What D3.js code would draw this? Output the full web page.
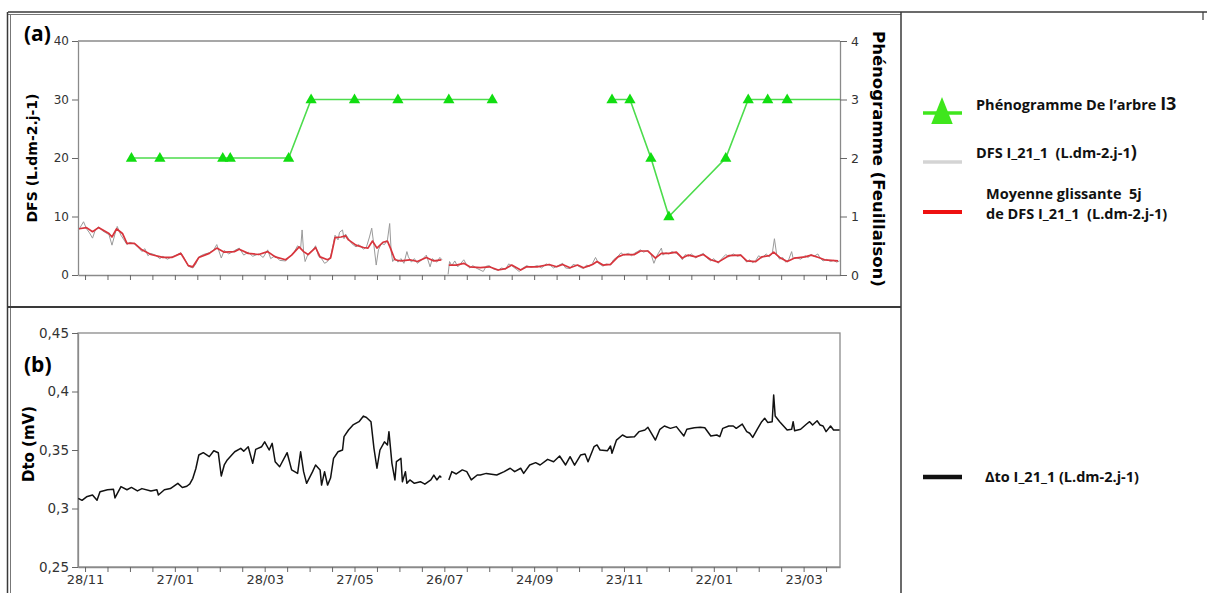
<!DOCTYPE html>
<html lang="fr">
<head>
<meta charset="utf-8">
<title>DFS et Dto I_21_1</title>
<script src="https://d3js.org/d3.v7.min.js"></script>
<style>
  body { margin: 0; background: #fff; }
  svg { display: block; }
  .lg { font-family: "Open Sans", sans-serif; font-weight: 700; font-size: 14.5px; fill: #111; white-space: pre; }
</style>
</head>
<body>
<script>

// ---- data (day 0 = 28/11/2012) ----
var startDate = new Date(2012, 10, 28);
var dayDomain = [-4.7, 504.3];
var dayTicks = d3.range(0, 500, 15);
var dfsTicks = [0, 10, 20, 30, 40];
var phenoTicks = [0, 1, 2, 3, 4];
var dtoTicks = [0.25, 0.3, 0.35, 0.4, 0.45];

// phenogram stage (feuillaison), null = no observation
var phenoSeries = [[31,2],[50,2],[92,2],[97,2],[136,2],[151,3],[180,3],[209,3],[243,3],[272,3],
  [300,null],[352,3],[364,3],[378,2],[390,1],[428,2],[443,3],[456,3],[469,3]];
var phenoHoldUntil = 504.3;

// DFS 5-day moving average (L.dm-2.j-1)
var dfsMean = [[-4,7.9],[1,8.1],[5,7.4],[9,8.1],[16,7.1],[18,6.5],[21,7.9],[25,7.1],[28,5.4],[33,5.4],
  [38,4.3],[44,3.5],[52,3.0],[58,3.0],[64,3.7],[69,1.6],[72,1.4],[76,3.0],[83,3.7],[88,4.6],[93,3.9],
  [100,4.0],[103,4.4],[109,3.7],[116,3.5],[122,4.0],[127,3.1],[134,2.6],[138,3.4],[143,4.8],[146,4.0],
  [149,3.5],[154,4.7],[157,3.1],[162,2.6],[164,2.9],[165,4.0],[167,6.4],[171,6.5],[174,6.7],[176,6.0],
  [181,5.1],[186,4.7],[189,4.6],[192,5.8],[195,4.6],[199,5.6],[202,5.8],[204,4.6],[207,2.6],[211,2.4],
  [217,2.6],[222,2.3],[228,3.0],[233,2.4],[238,2.6],[240,null],[243,1.7],[248,1.7],[253,2.0],[257,1.4],
  [264,1.25],[270,1.4],[276,0.85],[281,1.1],[285,1.7],[291,0.85],[295,1.4],[302,1.4],[310,1.8],[315,1.4],
  [319,1.8],[324,1.25],[329,1.7],[333,1.25],[337,1.6],[339,1.8],[342,2.3],[346,1.7],[351,1.8],[356,3.1],
  [360,3.5],[367,3.5],[371,4.1],[376,4.1],[381,2.9],[385,3.7],[390,3.7],[395,3.9],[399,2.9],[403,3.4],
  [408,3.1],[413,3.5],[418,2.6],[423,2.2],[430,3.3],[438,3.4],[442,2.4],[448,2.3],[452,3.1],[457,3.3],
  [460,3.9],[464,3.0],[469,2.3],[474,2.9],[481,3.1],[485,3.4],[490,3.0],[494,2.6],[503,2.4]];

// DFS raw daily values (L.dm-2.j-1)
var dfsRaw = [[-4.5,7.6],[-1,9.1],[1,7.9],[3,7.2],[5,6.3],[7,7.8],[9,8.2],[12,7.5],[16,6.9],[18,5.1],
  [20,7.0],[21.5,8.3],[24,6.8],[26,6.0],[28,5.2],[30,5.6],[33,5.3],[36,4.6],[38,4.0],[40,4.5],[42,3.3],
  [44,3.7],[47,3.4],[50,2.8],[52,3.2],[55,2.7],[58,3.1],[61,3.4],[64,3.8],[66,3.0],[69,1.5],[72,1.2],
  [74,1.9],[76,3.1],[79,3.5],[83,3.8],[86,4.3],[88,5.2],[91,2.9],[93,4.2],[96,3.6],[100,4.2],[103,4.6],
  [106,3.4],[109,3.9],[112,3.2],[116,3.6],[119,3.0],[122,4.3],[124,2.8],[127,3.3],[130,2.5],[134,2.4],
  [136,3.0],[139,3.6],[142,5.0],[144,4.5],[145,7.7],[146,4.0],[147,2.3],[149,3.6],[152,4.2],[154,5.0],
  [156,3.2],[158,2.8],[160,2.0],[162,2.3],[164,3.1],[166,5.5],[167,6.8],[169,6.0],[170,7.3],[172,7.7],
  [173,6.2],[174,7.0],[176,6.2],[178,5.4],[181,4.8],[183,5.2],[186,4.4],[188,4.8],[190,6.5],[191.5,8.0],
  [193,5.0],[194.5,1.7],[196,4.3],[198,5.4],[200,5.2],[202,6.0],[203.5,8.8],[204.5,4.0],[205.5,2.3],
  [207,2.9],[209,2.2],[211,2.8],[213,2.0],[215,4.0],[216,3.1],[218,2.2],[220,2.8],[222,2.0],[225,2.6],
  [228,3.4],[230.5,1.4],[232,2.8],[235,2.2],[237,3.0],[238.5,2.6],[240,null],[242.5,0.1],[243.5,2.3],
  [245,1.6],[247,2.4],[249,1.4],[251,2.0],[253,2.6],[255,1.7],[257,1.2],[259,1.6],[262,1.1],[266,0.6],
  [268,1.5],[270,1.6],[273,1.0],[276,0.8],[278,1.2],[281,1.0],[283,1.9],[285,1.6],[288,1.0],[290,0.6],
  [292,1.1],[295,1.6],[298,1.3],[302,1.6],[305,1.2],[308,1.9],[311,1.6],[313,1.2],[316,1.6],[319,2.0],
  [321,1.2],[324,1.1],[326,1.8],[329,1.6],[331,1.3],[333,1.1],[335,1.7],[337,1.5],[339,2.0],[341,3.0],
  [343,2.0],[346,1.5],[348,1.9],[351,1.7],[353,2.6],[356,3.2],[358,3.8],[360,3.4],[363,3.7],[365,3.3],
  [367,3.7],[369,4.0],[371,4.3],[373,3.9],[376,4.2],[378,3.6],[380,2.0],[382,3.3],[385,4.6],[386,3.4],
  [388,3.8],[390,3.6],[392,4.0],[395,3.7],[397,3.3],[399,2.6],[401,3.5],[403,3.2],[405,3.6],[408,2.9],
  [410,3.3],[413,3.7],[415,3.0],[418,2.4],[420,2.8],[423,2.0],[425,2.7],[428,3.5],[430,3.1],[433,3.6],
  [436,3.2],[438,3.5],[440,2.8],[442,2.2],[444,2.6],[446,2.1],[448,2.5],[450,3.3],[452,2.9],[455,3.6],
  [457,3.1],[459,3.6],[460.5,6.2],[462,3.5],[464,2.7],[466,3.0],[468,2.2],[470,2.6],[472,4.0],[473,2.8],
  [475,3.0],[478,2.7],[481,3.3],[483,3.0],[485,3.5],[487,3.2],[489.5,3.6],[491,2.9],[493,2.4],[495,2.7],
  [498,2.3],[500,2.5],[502,2.2],[504,2.4]];

// Dto I_21_1 (mV)
var dtoSeries = [[-4.5,0.3087],[-2,0.307],[1,0.310],[5,0.3115],[8,0.307],[10,0.3144],[15,0.316],[19,0.3164],
  [20,0.309],[24,0.3187],[28,0.316],[31,0.318],[35,0.315],[38,0.317],[44,0.315],[48,0.316],[49,0.3115],
  [53,0.316],[57,0.317],[62,0.3215],[65,0.318],[68,0.319],[70,0.321],[72,0.3258],[74,0.334],[76,0.3457],
  [79,0.3477],[83,0.3443],[86,0.3494],[89,0.3477],[91,0.3278],[93,0.3372],[95,0.3415],[98,0.3457],
  [100,0.3485],[104,0.3514],[106,0.349],[109,0.3528],[112,0.3386],[114,0.3505],[118,0.3528],[120,0.357],
  [123,0.350],[125,0.3557],[127,0.340],[130,0.3357],[135,0.3477],[138,0.333],[142,0.330],[144,0.3485],
  [146,0.3315],[148,0.3215],[152,0.3315],[154,0.3372],[157,0.333],[158,0.320],[160,0.3315],[162,0.320],
  [164,0.326],[166,0.3429],[169,0.3485],[172,0.350],[173,0.3614],[176,0.3671],[179,0.3714],[183,0.3742],
  [186,0.379],[188,0.3778],[191,0.3742],[193,0.3514],[195,0.3344],[197,0.350],[200,0.357],[202,0.3543],
  [203,0.3657],[205,0.3386],[207,0.3244],[208,0.340],[211,0.3429],[212,0.3229],[214,0.3315],[215,0.3215],
  [217,0.3244],[220,0.3215],[224,0.3229],[227,0.3208],[231,0.3244],[233,0.3286],[235,0.3244],[237,0.3278],
  [238,0.3265],[240,null],[243,0.3244],[245,0.3315],[248,0.3295],[252,0.333],[255,0.3315],[258,0.3244],
  [262,0.3286],[264,0.3286],[268,0.330],[275,0.3286],[280,0.3315],[284,0.3344],[287,0.3315],[291,0.3344],
  [293,0.330],[297,0.3372],[301,0.3392],[304,0.3372],[309,0.342],[313,0.340],[317,0.3449],[321,0.3372],
  [324,0.3443],[327,0.337],[331,0.3457],[334,0.3465],[336,0.340],[340,0.3528],[342,0.3543],[344,0.350],
  [349,0.3494],[351,0.3534],[352,0.3472],[355,0.3585],[359,0.3628],[362,0.3608],[367,0.3614],[370,0.3657],
  [374,0.3671],[376,0.3694],[381,0.3585],[384,0.3677],[387,0.3705],[391,0.3685],[395,0.370],[400,0.362],
  [402,0.3677],[407,0.369],[411,0.3695],[414,0.369],[418,0.362],[422,0.3628],[424,0.3614],[426,0.3685],
  [430,0.3705],[433,0.3705],[435,0.3685],[439,0.3722],[442,0.3657],[444,0.3643],[446,0.3608],[449,0.3677],
  [452,0.3742],[454,0.3771],[456,0.3736],[459,0.3742],[460,0.397],[461,0.379],[464,0.3742],[469,0.3671],
  [472,0.3677],[473,0.3742],[474,0.3664],[478,0.3677],[482,0.3722],[484,0.3742],[486,0.3714],[489,0.375],
  [491,0.3714],[493,0.3705],[495,0.3657],[498,0.3705],[500,0.3671],[504,0.3671]];

// ---- layout ----
var W = 1207, H = 593;
var L = 78, R = 840;
var topA = 41, botA = 275;
var topB = 333, botB = 567;

var svg = d3.select("body").append("svg")
  .attr("width", W).attr("height", H);

var x = d3.scaleLinear().domain(dayDomain).range([L, R]);
var yDfs = d3.scaleLinear().domain([0, 40]).range([botA, topA]);
var yPheno = d3.scaleLinear().domain([0, 4]).range([botA, topA]);
var yDto = d3.scaleLinear().domain([0.25, 0.45]).range([botB, topB]);

var dayFmt = d3.timeFormat("%d/%m");
var comma = d3.formatLocale({decimal: ",", thousands: " ", grouping: [3], currency: ["", ""]}).format(".2~f");

// panel frames
var frame = svg.append("g").attr("fill", "none").attr("stroke", "#3a3a3a");
frame.append("line").attr("x1", 8).attr("x2", W).attr("y1", 12).attr("y2", 12).attr("stroke-width", 1.5);
frame.append("line").attr("x1", 8).attr("x2", 901).attr("y1", 14.5).attr("y2", 14.5).attr("stroke", "#777");
frame.append("line").attr("x1", 7.5).attr("x2", 7.5).attr("y1", 12).attr("y2", H).attr("stroke-width", 1.5);
frame.append("line").attr("x1", 10.5).attr("x2", 10.5).attr("y1", 14).attr("y2", H).attr("stroke", "#777");
frame.append("line").attr("x1", 901).attr("x2", 901).attr("y1", 12).attr("y2", H).attr("stroke-width", 1.5);
frame.append("line").attr("x1", 1203).attr("x2", 1203).attr("y1", 12).attr("y2", 20).attr("stroke-width", 1.2);
frame.append("line").attr("x1", 8).attr("x2", 901).attr("y1", 307).attr("y2", 307).attr("stroke-width", 2);

function styleAxis(size) {
  return function(g) {
    g.select(".domain").attr("stroke", "#8a8a8a").attr("stroke-width", 1.3);
    g.selectAll(".tick line").attr("stroke", "#666");
    g.selectAll(".tick text")
      .style("font-family", "'DejaVu Sans', sans-serif")
      .style("font-size", size + "px")
      .style("fill", "#333");
  };
}

// ===== panel (a) =====
var gA = svg.append("g");
gA.append("line").attr("x1", L).attr("x2", R).attr("y1", topA).attr("y2", topA)
  .attr("stroke", "#8a8a8a").attr("stroke-width", 1.3);

gA.append("g").attr("transform", "translate(0," + botA + ")")
  .call(d3.axisBottom(x).tickValues(dayTicks).tickSize(5).tickSizeOuter(0).tickFormat(""))
  .call(styleAxis(12));

gA.append("g").attr("transform", "translate(" + L + ",0)")
  .call(d3.axisLeft(yDfs).tickValues(dfsTicks).tickSize(6).tickSizeOuter(0).tickPadding(3).tickFormat(d3.format("d")))
  .call(styleAxis(12));

gA.append("g").attr("transform", "translate(" + R + ",0)")
  .call(d3.axisRight(yPheno).tickValues(phenoTicks).tickSize(7).tickSizeOuter(0).tickPadding(4).tickFormat(d3.format("d")))
  .call(styleAxis(12.5));

var lineOf = function(xs, ys) {
  return d3.line().defined(function(d) { return d[1] != null; })
    .x(function(d) { return xs(d[0]); }).y(function(d) { return ys(d[1]); });
};

gA.append("path").datum(dfsRaw)
  .attr("fill", "none").attr("stroke", "#9a9a9a").attr("stroke-width", 1)
  .attr("d", lineOf(x, yDfs));

gA.append("path").datum(dfsMean)
  .attr("fill", "none").attr("stroke", "#d8343c").attr("stroke-width", 1.7)
  .attr("stroke-linejoin", "round")
  .attr("d", lineOf(x, yDfs));

var phenoLine = phenoSeries.concat([[phenoHoldUntil, phenoSeries[phenoSeries.length - 1][1]]]);
gA.append("path").datum(phenoLine)
  .attr("fill", "none").attr("stroke", "#4cdc4c").attr("stroke-width", 1.6)
  .attr("d", lineOf(x, yPheno));

gA.selectAll("path.tri")
  .data(phenoSeries.filter(function(d) { return d[1] != null; }))
  .enter().append("path")
  .attr("class", "tri")
  .attr("d", d3.symbol(d3.symbolTriangle, 55))
  .attr("transform", function(d) { return "translate(" + x(d[0]) + "," + (yPheno(d[1]) + 0.5) + ")"; })
  .attr("fill", "#11dd11");

gA.append("text")
  .attr("transform", "translate(37," + ((topA + botA) / 2) + ") rotate(-90)")
  .attr("text-anchor", "middle")
  .style("font-family", "DejaVu Sans").style("font-weight", 700).style("font-size", "14px")
  .text("DFS (L.dm-2.j-1)");

gA.append("text")
  .attr("transform", "translate(873,159) rotate(90)")
  .attr("text-anchor", "middle")
  .style("font-family", "DejaVu Sans").style("font-weight", 700).style("font-size", "16.5px")
  .text("Phénogramme (Feuillaison)");

gA.append("text").attr("x", 24).attr("y", 41)
  .style("font-family", "Open Sans").style("font-weight", 700).style("font-size", "21px")
  .text("(a)");

// ===== panel (b) =====
var gB = svg.append("g");
gB.append("rect").attr("x", L).attr("y", topB).attr("width", R - L).attr("height", botB - topB)
  .attr("fill", "none").attr("stroke", "#8a8a8a").attr("stroke-width", 1.3);

gB.append("g").attr("transform", "translate(0," + botB + ")")
  .call(d3.axisBottom(x).tickValues(dayTicks).tickSize(5).tickSizeOuter(0).tickPadding(3)
    .tickFormat(function(d) { return d % 60 === 0 ? dayFmt(d3.timeDay.offset(startDate, d)) : ""; }))
  .call(styleAxis(13));

gB.append("g").attr("transform", "translate(" + L + ",0)")
  .call(d3.axisLeft(yDto).tickValues(dtoTicks).tickSize(6).tickSizeOuter(0).tickPadding(3).tickFormat(comma))
  .call(styleAxis(13.5));

gB.append("path").datum(dtoSeries)
  .attr("fill", "none").attr("stroke", "#111").attr("stroke-width", 1.5)
  .attr("stroke-linejoin", "round")
  .attr("d", lineOf(x, yDto));

gB.append("text")
  .attr("transform", "translate(34,444) rotate(-90)")
  .attr("text-anchor", "middle")
  .style("font-family", "DejaVu Sans").style("font-weight", 700).style("font-size", "15px")
  .text("Dto (mV)");

gB.append("text").attr("x", 24).attr("y", 372)
  .style("font-family", "Open Sans").style("font-weight", 700).style("font-size", "21px")
  .text("(b)");

// ===== legend =====
var lg = svg.append("g");
var lx1 = 923, lx2 = 962;

lg.append("line").attr("x1", lx1).attr("x2", lx2).attr("y1", 113).attr("y2", 113)
  .attr("stroke", "#3fe61c").attr("stroke-width", 3.5);
lg.append("path").attr("d", d3.symbol(d3.symbolTriangle, 200))
  .attr("transform", "translate(942,115) scale(1,1.45)")
  .attr("fill", "#3fe61c");
var t1 = lg.append("text").attr("class", "lg").attr("x", 976).attr("y", 110).text("Phénogramme De l’arbre ");
t1.append("tspan").style("font-size", "18px").text("I3");

lg.append("line").attr("x1", lx1).attr("x2", lx2).attr("y1", 162).attr("y2", 162)
  .attr("stroke", "#d4d4d4").attr("stroke-width", 3.5);
var t2 = lg.append("text").attr("class", "lg").attr("x", 976).attr("y", 158).text("DFS I_21_1  (L.dm-2.j-1");
t2.append("tspan").style("font-size", "18px").text(")");

lg.append("line").attr("x1", lx1).attr("x2", lx2).attr("y1", 212).attr("y2", 212)
  .attr("stroke", "#ee1111").attr("stroke-width", 4);
lg.append("text").attr("class", "lg").attr("x", 986).attr("y", 199).text("Moyenne glissante  5j");
lg.append("text").attr("class", "lg").attr("x", 986).attr("y", 219).text("de DFS I_21_1  (L.dm-2.j-1)");

lg.append("line").attr("x1", lx1).attr("x2", lx2).attr("y1", 477).attr("y2", 477)
  .attr("stroke", "#111").attr("stroke-width", 4.5);
lg.append("text").attr("class", "lg").attr("x", 985).attr("y", 482).text("Δto I_21_1 (L.dm-2.j-1)");

</script>
</body>
</html>
